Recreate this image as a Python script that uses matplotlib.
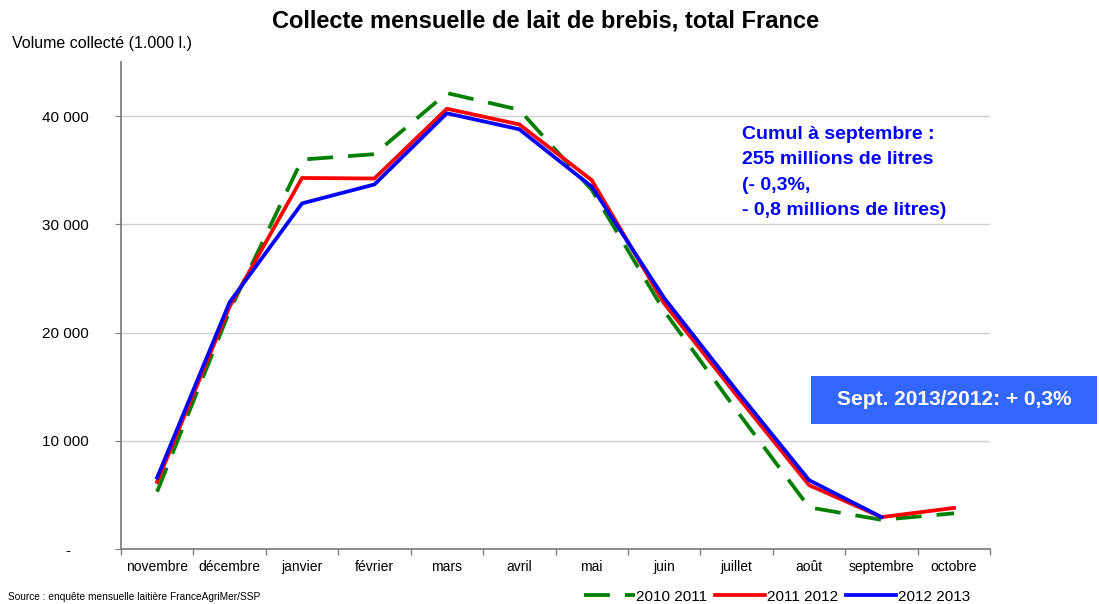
import matplotlib
matplotlib.use("Agg")
import matplotlib.pyplot as plt
from matplotlib.ticker import FixedLocator, FuncFormatter
from matplotlib.patches import Rectangle

plt.rcParams['font.family'] = ['Liberation Sans', 'DejaVu Sans']

months = ["novembre", "décembre", "janvier", "février", "mars", "avril",
          "mai", "juin", "juillet", "août", "septembre", "octobre"]
s_2010_2011 = [5300, 22000, 36000, 36500, 42150, 40600, 33200, 22000, 12800, 3850, 2700, 3300]
s_2011_2012 = [6200, 22400, 34300, 34250, 40700, 39250, 34100, 22700, 14200, 5900, 2950, 3800]
s_2012_2013 = [6600, 22800, 31950, 33700, 40280, 38800, 33500, 23200, 14650, 6370, 2950]
yticks = [0, 10000, 20000, 30000, 40000]

fig = plt.figure(figsize=(10.99, 6.04), dpi=100)
ax = fig.add_axes([0.110, 0.091, 0.791, 0.806])

x = list(range(len(months)))
ax.plot(x, s_2010_2011, color="#008000", lw=2.7, dashes=(6.9, 4), label="2010 2011", zorder=3)
ax.plot(x, s_2011_2012, color="#FF0000", lw=2.7, label="2011 2012", zorder=4)
ax.plot(x[:len(s_2012_2013)], s_2012_2013, color="#0000FF", lw=2.7, label="2012 2013", zorder=5)

ax.set_xlim(-0.5, len(months) - 0.5)
ax.set_ylim(0, 45000)
ax.set_xticks(x)
ax.set_xticklabels(months, fontsize=10)
ax.xaxis.set_minor_locator(FixedLocator([i - 0.5 for i in range(len(months) + 1)]))
ax.tick_params(axis="x", which="major", length=0, pad=8)
ax.tick_params(axis="x", which="minor", length=4, color="#808080", width=1)
ax.set_yticks(yticks)
ax.yaxis.set_major_formatter(FuncFormatter(
    lambda v, p: "-    " if v == 0 else f"{int(v):,}".replace(",", " ")))
ax.tick_params(axis="y", length=4, color="#808080", labelsize=11, pad=19.5)
ax.grid(axis="y", color="#D0D0D0", lw=1)
ax.set_axisbelow(True)
for s in ["top", "right"]:
    ax.spines[s].set_visible(False)
for s in ["left", "bottom"]:
    ax.spines[s].set_color("#808080")
    ax.spines[s].set_linewidth(1.3)

fig.text(0.496, 0.966, "Collecte mensuelle de lait de brebis, total France",
         ha="center", va="center", fontsize=17, fontweight="bold")
fig.text(0.011, 0.928, "Volume collecté (1.000 l.)", ha="left", va="center", fontsize=11.5)
fig.text(0.007, 0.012, "Source : enquête mensuelle laitière FranceAgriMer/SSP",
         ha="left", va="center", fontsize=7.3)

fig.text(0.675, 0.792,
         "Cumul à septembre :\n255 millions de litres\n(- 0,3%,\n- 0,8 millions de litres)",
         ha="left", va="top", fontsize=14, fontweight="bold", color="#0000FF", linespacing=1.65)

fig.patches.append(Rectangle((0.738, 0.298), 0.260, 0.0795, transform=fig.transFigure,
                             facecolor="#3366FF", edgecolor="none", zorder=1))
fig.text(0.868, 0.338, "Sept. 2013/2012: + 0,3%", ha="center", va="center",
         fontsize=15, fontweight="bold", color="white", zorder=2)

leg = fig.legend(loc="center right", bbox_to_anchor=(0.8826, 0.012), ncol=3, frameon=False,
                 fontsize=11, handlelength=3.3, handletextpad=0.1, columnspacing=0.5,
                 borderaxespad=0, borderpad=0)

fig.savefig("out.png", dpi=100)
